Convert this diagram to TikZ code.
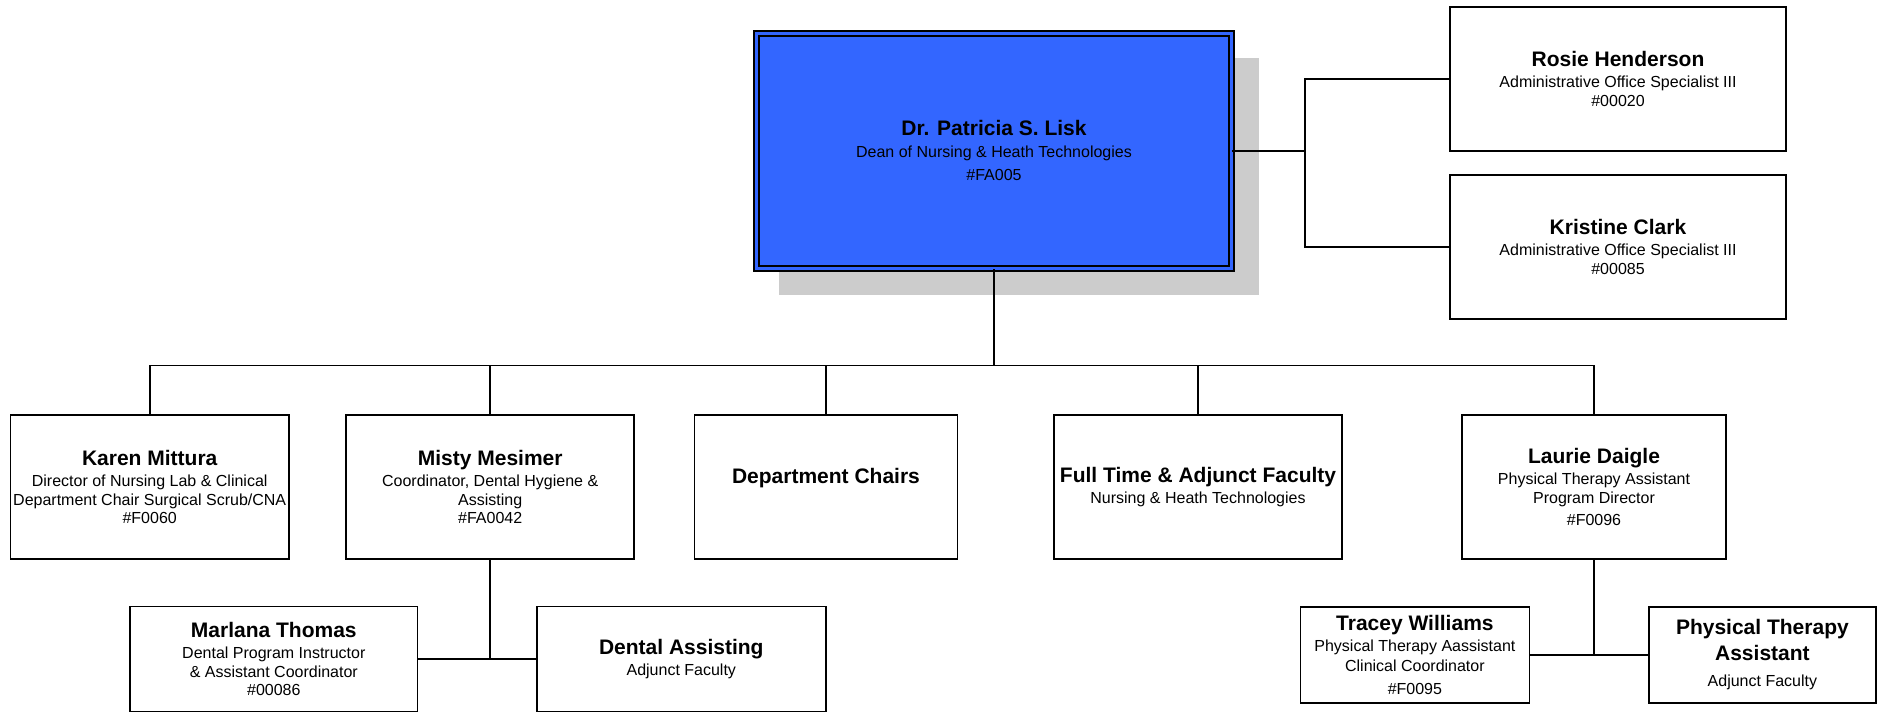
\documentclass[tikz,border=0pt]{standalone}
\usepackage{fontspec}
\setmainfont{Liberation Sans}
\usetikzlibrary{shadows}
\definecolor{deanblue}{RGB}{51,102,255}
\newcommand{\pname}[1]{{\fontsize{15.75}{17.5}\selectfont\bfseries #1}}
\tikzset{
	orgbox/.style={draw, line width=1.2pt, fill=white, rectangle, align=center, inner sep=0pt, font=\fontsize{12}{14}\selectfont},
	link/.style={black, line width=1.2pt},
}
\begin{document}
\begin{tikzpicture}[x=0.75pt,y=-0.75pt]
		\useasboundingbox (0,0) rectangle (1879,711);
		% dean
		\node[orgbox, fill=deanblue, double=deanblue, double distance=2.55pt, minimum width=356.25pt, minimum height=176.25pt,
			drop shadow={shadow xshift=18.5pt, shadow yshift=-19pt, shadow scale=1.01, draw=none, fill=black!20, opacity=1}] (lisk) at (994,150.7)
			{\pname{Dr. Patricia S. Lisk}\\[2pt] Dean of Nursing \& Heath Technologies\\[3.5pt] \#FA005};
		% office staff
		\node[orgbox, minimum width=252pt, minimum height=108pt] (rosie) at (1618,78.7)
			{\pname{Rosie Henderson}\\[2pt] Administrative Office Specialist III\\ \#00020};
		\node[orgbox, minimum width=252pt, minimum height=108pt] (kristine) at (1618,246.8)
			{\pname{Kristine Clark}\\[2pt] Administrative Office Specialist III\\ \#00085};
		% second row
		\node[orgbox, minimum width=209pt, minimum height=108pt] (karen) at (149.7,487)
			{\pname{Karen Mittura}\\[2pt] Director of Nursing Lab \& Clinical\\ Department Chair Surgical Scrub/CNA\\ \#F0060};
		\node[orgbox, minimum width=216pt, minimum height=108pt] (misty) at (490.2,487)
			{\pname{Misty Mesimer}\\[2pt] Coordinator, Dental Hygiene \&\\ Assisting\\ \#FA0042};
		\node[orgbox, minimum width=197.3pt, minimum height=108pt] (chairs) at (826,487)
			{\pname{Department Chairs}\\[2pt] \mbox{}};
		\node[orgbox, minimum width=216.3pt, minimum height=108pt] (faculty) at (1198,487)
			{\pname{Full Time \& Adjunct Faculty}\\[2pt] Nursing \& Heath Technologies};
		\node[orgbox, minimum width=198.2pt, minimum height=108pt] (laurie) at (1594,487)
			{\pname{Laurie Daigle}\\[2pt] Physical Therapy Assistant\\ Program Director\\[2.5pt] \#F0096};
		% third row
		\node[orgbox, minimum width=215.5pt, minimum height=78.75pt] (marlana) at (273.8,659)
			{\pname{Marlana Thomas}\\[2pt] Dental Program Instructor\\ \& Assistant Coordinator\\ \#00086};
		\node[orgbox, minimum width=216.6pt, minimum height=78.75pt] (dental) at (681.3,659)
			{\pname{Dental Assisting}\\[2pt] Adjunct Faculty};
		\node[orgbox, minimum width=171.6pt, minimum height=72pt] (tracey) at (1414.9,654.7)
			{\pname{Tracey Williams}\\[2pt] Physical Therapy Aassistant\\[1pt] Clinical Coordinator\\[3pt] \#F0095};
		\node[orgbox, minimum width=170.4pt, minimum height=72pt] (pta) at (1762.4,654.7)
			{\pname{Physical Therapy}\\[3.5pt] \pname{Assistant}\\[6pt] Adjunct Faculty};
		% connectors
		\coordinate (bus) at (994,365.5);
		\coordinate (rjoin) at (1305,150.7);
		\draw[link] (lisk.south) -- (bus);
		\draw[link] (karen.north) |- (bus) -| (laurie.north);
		\foreach \n in {misty, chairs, faculty}
			\draw[link] (\n.north) -- (\n.north |- bus);
		\draw[link] (lisk.east) -- (rjoin);
		\draw[link] (rosie.west) -| (rjoin) |- (kristine.west);
		\draw[link] (misty.south) -- (misty.south |- marlana.east);
		\draw[link] (marlana.east) -- (dental.west);
		\draw[link] (laurie.south) -- (laurie.south |- tracey.east);
		\draw[link] (tracey.east) -- (pta.west);
	\end{tikzpicture}
\end{document}
